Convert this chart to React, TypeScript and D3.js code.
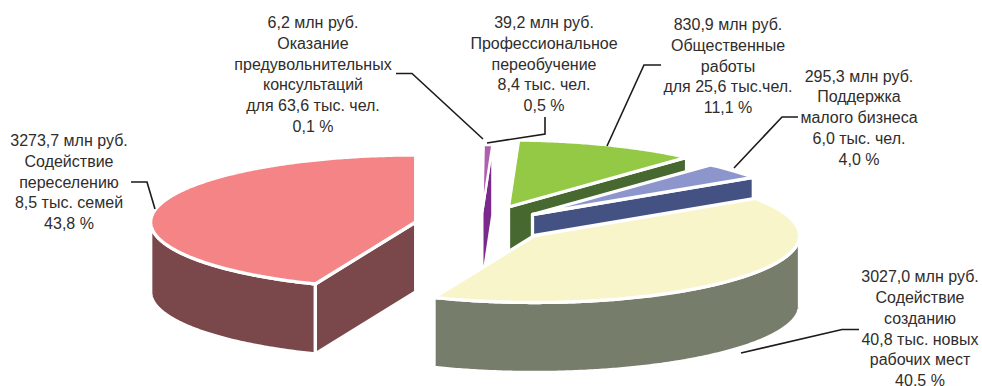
import React from "react";
import * as d3 from "d3";

// Budget by programme, million roubles, clockwise from twelve o'clock
const programmes = [
  "Оказание предувольнительных консультаций",
  "Профессиональное переобучение",
  "Общественные работы",
  "Поддержка малого бизнеса",
  "Содействие созданию новых рабочих мест",
  "Содействие переселению",
];
const millionRub = [6.2, 39.2, 830.9, 295.3, 3027.0, 3273.7];

const labelLines = [
  ["6,2 млн руб.", "Оказание", "предувольнительных", "консультаций", "для 63,6 тыс. чел.", "0,1 %"],
  ["39,2 млн руб.", "Профессиональное", "переобучение", "8,4 тыс. чел.", "0,5 %"],
  ["830,9 млн руб.", "Общественные", "работы", "для 25,6 тыс.чел.", "11,1 %"],
  ["295,3 млн руб.", "Поддержка", "малого бизнеса", "6,0 тыс. чел.", "4,0 %"],
  ["3027,0 млн руб.", "Содействие", "созданию", "40,8 тыс. новых", "рабочих мест", "40.5 %"],
  ["3273,7 млн руб.", "Содействие", "переселению", "8,5 тыс. семей", "43,8 %"],
];

// Layout: each slice is pulled out of the pie to its own centre
const WIDTH = 982;
const HEIGHT = 386;
const RX = 265;
const RY = 67;
const DEPTH = 70;
const LINE_HEIGHT = 20.75;
const sliceCentres: [number, number][] = [
  [482.3, 212],
  [482.3, 212],
  [508.5, 207],
  [532.5, 214.5],
  [534.5, 235.5],
  [415.7, 222],
];
// White seam around each slice; the two thinnest slices get a finer one
const seams = [2.4, 2.4, 3.3, 3.3, 3.3, 3.3];
const topColours = ["#B05FAE", "#B05FAE", "#93C945", "#8C96CC", "#F9F5CB", "#F58486"];
const wallColours = ["#7A2A8C", "#7A2A8C", "#47682F", "#435283", "#767E6B", "#7A474A"];
const labelAnchors: [number, number][] = [
  [313, 28],
  [544, 28],
  [728, 30],
  [859, 81.5],
  [920, 282.25],
  [69, 146],
];
const leaders: [number, number][][] = [
  [[396, 73.5], [412, 73.5], [483, 139]],
  [[545, 117], [545, 134], [487, 143]],
  [[661, 65], [644, 65], [607, 146]],
  [[798, 117], [782, 117], [734, 168]],
  [[859, 329.5], [842, 329.5], [741, 353]],
  [[131, 182], [147, 182], [155, 209]],
];
// Painted back to front, so nearer slices cover the walls behind them
const paintOrder = [5, 0, 1, 2, 3, 4];

const pie = d3.pie<number>().sort(null).startAngle(0).endAngle(2 * Math.PI);
const outline = d3.line();

type Pt = [number, number];

function rimPoint(c: Pt, a: number, drop = 0): Pt {
  return [c[0] + RX * Math.sin(a), c[1] - RY * Math.cos(a) + drop];
}

function rimArc(c: Pt, a0: number, a1: number, drop = 0): Pt[] {
  const steps = Math.max(2, Math.ceil(Math.abs(a1 - a0) / 0.01));
  return d3.range(steps + 1).map((i) => rimPoint(c, a0 + ((a1 - a0) * i) / steps, drop));
}

function Slice({ centre, a0, a1, top, wall, seam }: { centre: Pt; a0: number; a1: number; top: string; wall: string; seam: number }) {
  const walls: Pt[][] = [];
  // Radial face on the clockwise side, seen when it turns towards the viewer
  if (Math.sin(a1) > 1e-6) {
    walls.push([centre, rimPoint(centre, a1), rimPoint(centre, a1, DEPTH), [centre[0], centre[1] + DEPTH]]);
  }
  // Radial face on the counter-clockwise side
  if (Math.sin(a0) < -1e-6) {
    walls.push([centre, rimPoint(centre, a0), rimPoint(centre, a0, DEPTH), [centre[0], centre[1] + DEPTH]]);
  }
  // Outer rim between a quarter and three quarters of the turn
  const lo = Math.max(a0, Math.PI / 2);
  const hi = Math.min(a1, (3 * Math.PI) / 2);
  if (hi > lo) {
    walls.push([...rimArc(centre, lo, hi), ...rimArc(centre, hi, lo, DEPTH)]);
  }
  const face: Pt[] = [centre, ...rimArc(centre, a0, a1)];
  return (
    <g stroke="#fff" strokeWidth={seam} strokeLinejoin="round">
      {walls.map((w, i) => (
        <path key={i} d={outline(w) + "Z"} fill={wall} />
      ))}
      <path d={outline(face) + "Z"} fill={top} />
    </g>
  );
}

export default function App() {
  const arcs = pie(millionRub);
  return (
    <svg
      width={WIDTH}
      height={HEIGHT}
      viewBox={`0 0 ${WIDTH} ${HEIGHT}`}
      style={{ position: "absolute", left: 0, top: 0, display: "block", background: "#fff" }}
      role="img"
      aria-label={programmes.join(", ")}
    >
      {paintOrder.map((i) => (
        <Slice
          key={i}
          centre={sliceCentres[i]}
          a0={arcs[i].startAngle}
          a1={arcs[i].endAngle}
          top={topColours[i]}
          wall={wallColours[i]}
          seam={seams[i]}
        />
      ))}
      {leaders.map((pts, i) => (
        <path key={i} d={outline(pts) ?? ""} fill="none" stroke="#1d1a18" strokeWidth={1.6} />
      ))}
      {labelLines.map((lines, i) => (
        <text
          key={i}
          textAnchor="middle"
          fontFamily="'Liberation Sans', Arial, sans-serif"
          fontSize={16}
          fill="#2f2d2c"
        >
          {lines.map((line, j) => (
            <tspan key={j} x={labelAnchors[i][0]} y={labelAnchors[i][1] + j * LINE_HEIGHT}>
              {line}
            </tspan>
          ))}
        </text>
      ))}
    </svg>
  );
}
